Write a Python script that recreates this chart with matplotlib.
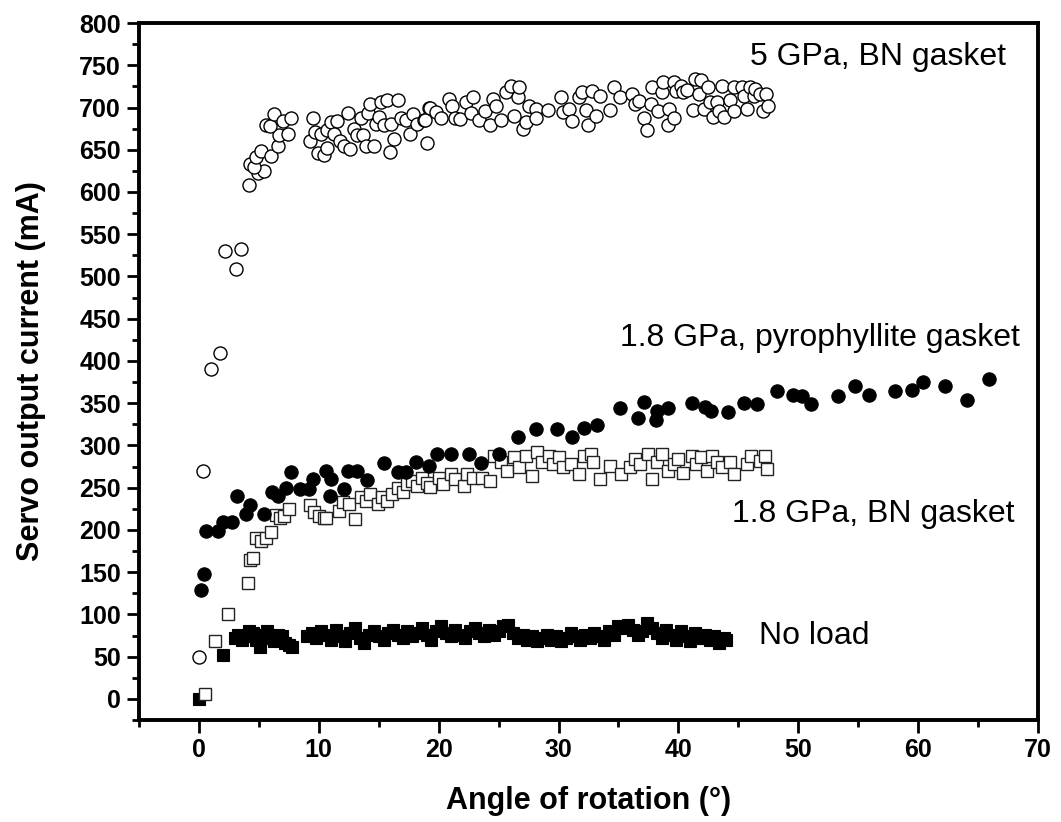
import matplotlib
matplotlib.use("Agg")
import matplotlib.pyplot as plt
from matplotlib.ticker import MultipleLocator

plt.rcParams['font.family'] = ['Liberation Sans', 'DejaVu Sans']

# ---------------- data ----------------
# 5 GPa, BN gasket (open circles)
bn5_x = [0.0, 0.3, 1.0, 1.8, 2.2, 3.1, 3.5,
         4.14, 4.9, 5.45, 4.25, 4.6, 4.75, 5.2, 6.05, 6.6, 6.7, 7.4, 5.6, 5.9, 6.3, 7.0, 7.7,
         9.55, 9.3, 9.7, 9.9, 10.4, 10.2, 10.7, 10.7, 11.0, 11.5, 11.3, 11.8, 12.1, 12.4, 12.6,
         12.9, 13.2, 13.5, 13.7, 13.9, 14.1, 14.3, 14.6, 14.75, 15.0, 15.2, 15.4, 15.7, 15.9,
         16.0, 16.3, 16.6, 16.9, 17.25, 17.6, 17.9, 18.2, 18.8, 19.05, 19.2,
         18.9, 19.3, 19.75, 20.2, 20.9, 21.1, 21.4, 21.8, 22.25, 22.7, 22.9, 23.4, 23.9, 24.3,
         24.5, 24.8, 25.2, 25.6, 26.0, 26.3, 26.6, 26.7, 27.0, 27.25, 27.5, 28.1, 28.1, 29.1,
         30.2, 30.4, 30.9, 31.1, 31.7, 32.0, 32.3, 32.5, 32.8, 33.1, 33.5, 34.3, 34.6, 35.1,
         36.1, 36.4, 36.7, 37.1, 37.4, 37.7, 37.8, 38.3, 38.6, 38.7, 39.1, 39.2, 39.6, 39.6,
         39.8, 40.2, 40.4, 40.7, 41.2, 41.4, 41.7, 41.9, 42.1, 42.5, 42.6, 42.9, 43.2, 43.4,
         43.6, 43.8, 44.3, 44.6, 44.6, 45.3, 45.5, 45.7, 46.0, 46.3, 46.4, 46.8, 47.1, 47.3, 47.5]
bn5_y = [50, 270, 390, 410, 530, 509, 533,
         608, 622, 625, 633, 630, 641, 648, 643, 654, 667, 669, 679, 678, 692, 684, 687,
         687, 660, 671, 646, 644, 669, 652, 673, 683, 684, 669, 660, 655, 694, 651,
         675, 667, 687, 668, 655, 693, 704, 654, 681, 689, 706, 679, 709, 647,
         681, 663, 709, 687, 685, 669, 692, 681, 685, 658, 700,
         685, 700, 695, 688, 710, 702, 688, 686, 706, 693, 712, 685, 696, 679,
         710, 702, 685, 718, 726, 690, 712, 724, 675, 683, 702, 698, 688, 697,
         712, 695, 698, 684, 712, 718, 697, 679, 720, 690, 714, 697, 724, 712,
         716, 704, 708, 687, 673, 704, 724, 696, 718, 730, 679, 698, 688, 730,
         720, 726, 718, 721, 697, 734, 716, 732, 698, 724, 706, 689, 706, 696,
         726, 689, 709, 696, 724, 724, 714, 698, 724, 714, 722, 716, 696, 716, 702]

# 1.8 GPa, pyrophyllite gasket (filled circles)
pyro_x = [0.17, 0.4, 0.6, 1.55, 2.0, 2.8, 3.2, 3.9, 4.3, 5.4, 6.1, 6.6, 7.25, 7.7, 8.4,
          9.2, 9.5, 10.6, 11.0, 10.9, 12.1, 12.4, 13.2, 14.0, 15.4, 16.6, 17.3, 18.1, 19.2,
          19.9, 21.0, 22.5, 23.5, 25.0, 26.6, 28.1, 29.9, 31.1, 32.1, 33.2, 35.1, 36.6, 37.1,
          38.1, 38.2, 39.1, 41.1, 42.2, 42.7, 44.1, 45.5, 46.6, 48.2, 49.6, 50.3, 51.1, 53.3,
          54.7, 55.9, 58.1, 59.5, 60.4, 62.25, 64.1, 65.9]
pyro_y = [129, 148, 199, 199, 210, 210, 240, 219, 230, 219, 245, 240, 250, 269, 249,
          249, 260, 270, 260, 240, 249, 270, 270, 259, 279, 269, 269, 281, 276,
          290, 290, 290, 279, 290, 310, 320, 320, 310, 321, 324, 344, 333, 351,
          330, 341, 344, 350, 345, 341, 340, 350, 349, 365, 360, 359, 349, 359,
          370, 360, 365, 366, 375, 370, 354, 379]

# 1.8 GPa, BN gasket (open squares)
bn18_x = [0.5, 1.3, 2.45, 4.1, 4.3, 4.5, 4.75, 5.2, 5.6, 6.0, 6.4, 6.8, 7.1, 7.5,
          9.3, 9.6, 10.0, 10.4, 10.6, 11.7, 12.0, 12.5, 13.0, 13.5, 13.9, 14.3, 14.9, 15.3,
          15.7, 16.1, 16.6, 17.0, 17.4, 17.8, 18.2, 18.6, 19.0, 19.3, 20.0, 20.4, 21.0, 21.4,
          22.1, 22.4, 22.9, 23.6, 24.3, 24.6, 25.2, 25.7, 26.3, 26.7, 27.25, 27.8, 28.2, 28.6,
          29.2, 29.5, 30.0, 30.4, 31.0, 31.7, 32.1, 32.7, 32.9, 33.5, 34.3, 35.2, 36.0, 36.4,
          36.8, 37.5, 37.8, 38.2, 38.6, 39.1, 39.6, 40.0, 40.4, 41.1, 41.5, 41.9, 42.4, 42.8,
          43.2, 43.6, 44.3, 44.6, 45.7, 46.1, 46.8, 47.25, 47.4]
bn18_y = [6, 69, 101, 137, 164, 167, 191, 187, 191, 198, 218, 214, 216, 225,
          229, 221, 217, 214, 214, 222, 233, 231, 213, 239, 234, 242, 231, 239,
          234, 242, 250, 245, 254, 258, 252, 262, 256, 251, 262, 254, 266, 260,
          252, 266, 262, 262, 258, 288, 280, 270, 286, 274, 288, 264, 292, 280,
          288, 278, 286, 274, 278, 266, 288, 290, 280, 260, 276, 266, 274, 284,
          278, 290, 260, 280, 290, 270, 278, 284, 268, 288, 278, 286, 270, 288,
          280, 274, 280, 266, 278, 288, 282, 288, 272]

# No load (filled squares)
noload_x = [0.0, 2.0,
            3.0, 3.3, 3.6, 3.9, 4.2, 4.5, 4.8, 5.1, 5.4, 5.7, 6.0, 6.3, 6.6, 6.9, 7.2, 7.5, 7.8,
            9.0, 9.4, 9.8, 10.2, 10.6, 11.0, 11.4, 11.8, 12.2, 12.6, 13.0, 13.4, 13.8, 14.2,
            14.6, 15.0, 15.4, 15.8, 16.2, 16.6, 17.0, 17.4, 17.8, 18.2, 18.6, 19.0, 19.4, 19.8,
            20.2, 20.6, 21.0, 21.4, 21.8, 22.2, 22.6, 23.0, 23.4, 23.8, 24.2, 24.6, 25.0, 25.4,
            25.8, 26.2, 26.6, 27.0, 27.4, 27.8, 28.2, 28.6, 29.0, 29.4, 29.8, 30.2, 30.6, 31.0,
            31.4, 31.8, 32.2, 32.6, 33.0, 33.4, 33.8, 34.2, 34.6, 35.0, 35.4, 35.8, 36.2, 36.6,
            37.0, 37.4, 37.8, 38.2, 38.6, 39.0, 39.4, 39.8, 40.2, 40.6, 41.0, 41.4, 41.8, 42.2,
            42.6, 43.0, 43.4, 43.8, 44.0]
noload_y = [0, 52,
            72, 76, 70, 74, 80, 78, 70, 62, 76, 80, 72, 68, 76, 74, 66, 64, 62,
            74, 78, 72, 80, 76, 70, 82, 74, 68, 78, 84, 72, 66, 76,
            80, 74, 70, 78, 82, 76, 72, 80, 74, 78, 84, 76, 70, 80,
            86, 78, 74, 82, 76, 72, 80, 84, 78, 74, 82, 76, 80, 86,
            88, 78, 72, 76, 70, 74, 68, 72, 76, 70, 74, 68, 72, 78,
            74, 70, 76, 72, 78, 74, 70, 80, 76, 86, 84, 88, 82, 76,
            80, 90, 84, 78, 72, 82, 76, 70, 80, 74, 68, 78, 72, 76,
            70, 74, 66, 72, 70]

x_ticks = [0, 10, 20, 30, 40, 50, 60, 70]
y_ticks = list(range(0, 801, 50))

# ---------------- figure ----------------
fig = plt.figure(figsize=(10.61, 8.22), dpi=100)
ax = fig.add_axes([0.131, 0.124, 0.8473, 0.848])

ax.plot(noload_x, noload_y, ls='none', marker='s', ms=8.5, mfc='black', mec='black', mew=0.8, zorder=2)
ax.plot(bn18_x, bn18_y, ls='none', marker='s', ms=8.5, mfc='white', mec='#222222', mew=1.0, zorder=3)
ax.plot(pyro_x, pyro_y, ls='none', marker='o', ms=9.6, mfc='black', mec='black', mew=0.8, zorder=4)
ax.plot(bn5_x, bn5_y, ls='none', marker='o', ms=9.4, mfc='white', mec='black', mew=1.0, zorder=5)

ax.set_xlim(-5, 70)
ax.set_ylim(-25, 800)
ax.set_xticks(x_ticks)
ax.set_yticks(y_ticks)
ax.xaxis.set_minor_locator(MultipleLocator(5))
ax.yaxis.set_minor_locator(MultipleLocator(25))

for s in ax.spines.values():
    s.set_linewidth(2.8)

ax.tick_params(axis='both', which='major', direction='out', length=9, width=2.0,
               labelsize=18, pad=4)
ax.tick_params(axis='both', which='minor', direction='out', length=5, width=2.0)
ax.tick_params(top=False, right=False, which='both')
for lab in ax.get_xticklabels() + ax.get_yticklabels():
    lab.set_fontweight('bold')

ax.set_xlabel('Angle of rotation (°)', fontsize=22, fontweight='bold', labelpad=17)
ax.set_ylabel('Servo output current (mA)', fontsize=22, fontweight='bold', labelpad=24)

ax.text(46.0, 750, '5 GPa, BN gasket', fontsize=23, ha='left', va='baseline')
ax.text(68.5, 418, '1.8 GPa, pyrophyllite gasket', fontsize=23, ha='right', va='baseline')
ax.text(44.5, 209, '1.8 GPa, BN gasket', fontsize=23, ha='left', va='baseline')
ax.text(46.7, 65, 'No load', fontsize=23, ha='left', va='baseline')

fig.savefig('out.png', dpi=100)
